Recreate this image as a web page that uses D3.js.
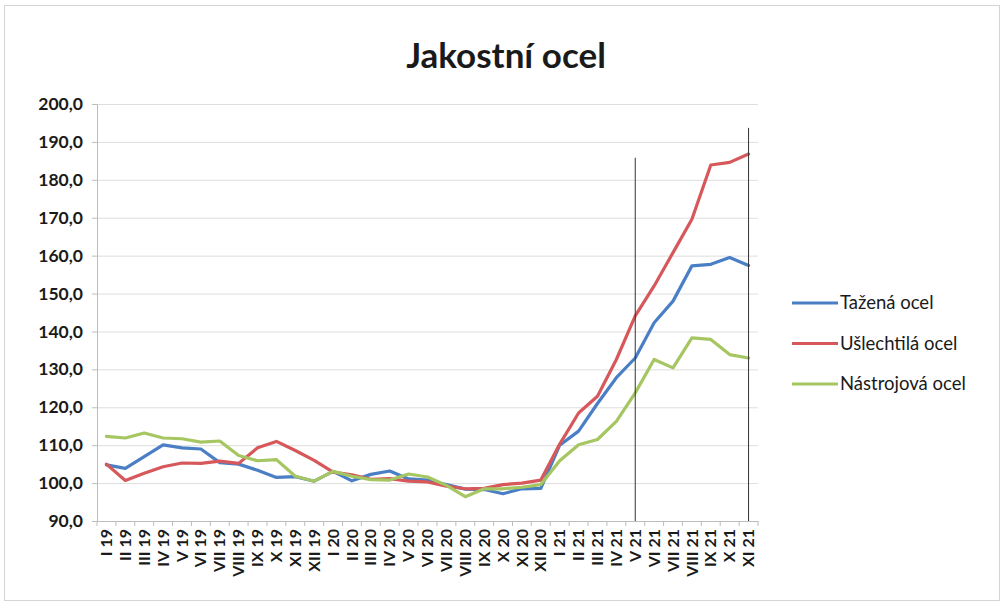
<!DOCTYPE html>
<html>
<head>
<meta charset="utf-8">
<script src="https://cdn.jsdelivr.net/npm/d3@7"></script>
<style>
  body { margin: 0; background: #fff; }
  svg { display: block; font-family: Lato, 'Open Sans', sans-serif; }
</style>
</head>
<body>
<svg></svg>
<script>
// months on the x axis
let months = ['I 19', 'II 19', 'III 19', 'IV 19', 'V 19', 'VI 19', 'VII 19', 'VIII 19', 'IX 19', 'X 19', 'XI 19', 'XII 19',
  'I 20', 'II 20', 'III 20', 'IV 20', 'V 20', 'VI 20', 'VII 20', 'VIII 20', 'IX 20', 'X 20', 'XI 20', 'XII 20',
  'I 21', 'II 21', 'III 21', 'IV 21', 'V 21', 'VI 21', 'VII 21', 'VIII 21', 'IX 21', 'X 21', 'XI 21'];

// index values per series
let tazena = [104.8, 103.9, 107.0, 110.1, 109.3, 109.0, 105.4, 105.0, 103.4, 101.5, 101.7, 100.5,
  103.1, 100.6, 102.3, 103.2, 101.1, 100.8, 99.6, 98.4, 98.3, 97.2, 98.5, 98.6,
  110.0, 113.7, 121.0, 127.8, 133.0, 142.3, 148.0, 157.3, 157.7, 159.5, 157.4];
let uslechtila = [105.0, 100.7, 102.6, 104.3, 105.3, 105.2, 105.8, 105.2, 109.3, 111.0, 108.6, 106.0,
  102.9, 102.2, 101.0, 101.2, 100.5, 100.3, 99.2, 98.5, 98.6, 99.6, 100.0, 100.8,
  110.3, 118.5, 122.9, 132.6, 144.1, 152.0, 160.8, 169.6, 183.9, 184.6, 186.8];
let nastrojova = [112.3, 111.9, 113.2, 111.9, 111.7, 110.8, 111.1, 107.3, 105.9, 106.2, 101.8, 100.5,
  103.1, 101.8, 100.9, 100.8, 102.4, 101.6, 99.4, 96.4, 98.5, 98.5, 98.9, 99.6,
  105.9, 110.1, 111.5, 116.3, 123.8, 132.6, 130.4, 138.3, 137.9, 133.9, 133.0];

let seriesNames = ['Tažená ocel', 'Ušlechtilá ocel', 'Nástrojová ocel'];
let seriesColors = ['#4a7fc6', '#d6585b', '#a5c660'];

// y axis ticks
let yTicks = [90, 100, 110, 120, 130, 140, 150, 160, 170, 180, 190, 200];

// the two vertical marker lines (month, top value)
let markerMonths = ['V 21', 'XI 21'];
let markerTops = [185.8, 193.7];

let width = 1001;
let height = 603;
let plotLeft = 97;
let plotRight = 758;
let plotTop = 104;
let plotBottom = 521;

let svg = d3.select('svg').attr('width', width).attr('height', height);

// frame of the chart
svg.append('rect')
  .attr('x', 4.5).attr('y', 5.5)
  .attr('width', width - 6).attr('height', height - 8)
  .attr('fill', 'none').attr('stroke', '#d4d4d4');

let xScale = d3.scaleBand().domain(months).range([plotLeft, plotRight]).padding(0);
let yScale = d3.scaleLinear().domain([90, 200]).range([plotBottom, plotTop]);

// gridlines
svg.append('g')
  .attr('transform', `translate(${plotLeft}, 0)`)
  .call(d3.axisLeft(yScale).tickValues(yTicks).tickSize(-(plotRight - plotLeft)).tickFormat(''))
  .call(g => g.select('.domain').remove())
  .call(g => g.selectAll('line').attr('stroke', '#dedede'));

// y axis
let yAxis = svg.append('g')
  .attr('transform', `translate(${plotLeft}, 0)`)
  .call(d3.axisLeft(yScale).tickValues(yTicks).tickSize(5).tickPadding(9)
    .tickFormat(d => d3.format('.1f')(d).replace('.', ',')));
yAxis.select('.domain').attr('stroke', '#bdbdbd');
yAxis.selectAll('line').attr('stroke', '#bdbdbd');
yAxis.selectAll('text')
  .attr('font-size', 17.5).attr('font-weight', 'bold').attr('fill', '#1a1a1a')
  .attr('font-family', 'Lato, sans-serif');

// x axis, ticks between categories
let xAxis = svg.append('g')
  .attr('transform', `translate(0, ${plotBottom})`)
  .call(d3.axisBottom(xScale).tickSize(0).tickPadding(0));
xAxis.select('.domain').attr('stroke', '#bdbdbd');
xAxis.selectAll('.tick text')
  .attr('font-size', 16).attr('font-weight', 'bold').attr('fill', '#1a1a1a')
  .attr('font-family', 'Lato, sans-serif')
  .attr('text-anchor', 'end')
  .attr('y', 0)
  .attr('dy', '0.35em')
  .attr('transform', 'translate(0, 8) rotate(-90)');
xAxis.selectAll('.sep')
  .data(months.concat(['end']))
  .enter()
  .append('line')
  .attr('class', 'sep')
  .attr('x1', (d, i) => plotLeft + i * xScale.bandwidth())
  .attr('x2', (d, i) => plotLeft + i * xScale.bandwidth())
  .attr('y1', 0).attr('y2', 5)
  .attr('stroke', '#bdbdbd');

// lines
let line = d3.line()
  .x((d, i) => xScale(months[i]) + xScale.bandwidth() / 2)
  .y(d => yScale(d));

[tazena, uslechtila, nastrojova].forEach((values, s) => {
  svg.append('path')
    .datum(values)
    .attr('d', line)
    .attr('fill', 'none')
    .attr('stroke', seriesColors[s])
    .attr('stroke-width', 3.2)
    .attr('stroke-linejoin', 'round')
    .attr('stroke-linecap', 'round');
});

// vertical marker lines
svg.selectAll('.marker')
  .data(markerMonths)
  .enter()
  .append('line')
  .attr('class', 'marker')
  .attr('x1', d => xScale(d) + xScale.bandwidth() / 2)
  .attr('x2', d => xScale(d) + xScale.bandwidth() / 2)
  .attr('y1', (d, i) => yScale(markerTops[i]))
  .attr('y2', plotBottom)
  .attr('stroke', '#333')
  .attr('stroke-width', 1);

// title
svg.append('text')
  .attr('x', 506).attr('y', 68)
  .attr('text-anchor', 'middle')
  .attr('font-size', 35).attr('font-weight', 'bold')
  .attr('fill', '#1a1a1a')
  .text('Jakostní ocel');

// legend
let legend = svg.selectAll('.legend')
  .data(seriesNames)
  .enter()
  .append('g')
  .attr('class', 'legend')
  .attr('transform', (d, i) => `translate(792, ${303 + i * 40.5})`);

legend.append('line')
  .attr('x1', 0).attr('x2', 46)
  .attr('stroke', (d, i) => seriesColors[i])
  .attr('stroke-width', 3.2);

legend.append('text')
  .attr('x', 48).attr('dy', '0.35em')
  .attr('font-size', 18.5)
  .attr('fill', '#1a1a1a')
  .text(d => d);
</script>
</body>
</html>
